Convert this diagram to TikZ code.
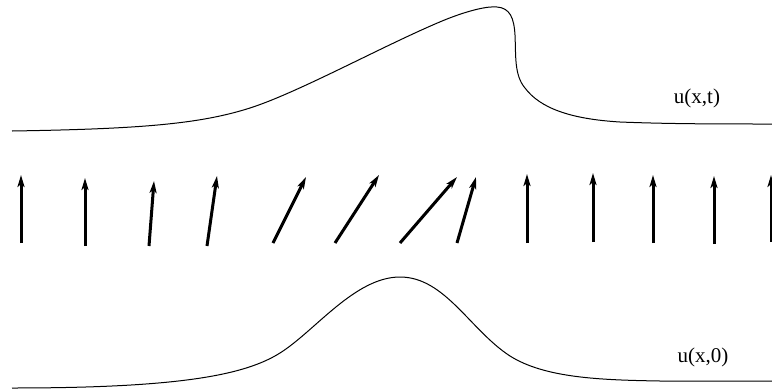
\documentclass[tikz,border=0pt]{standalone}
\usepackage{fontspec}
\setmainfont{Liberation Serif}
\usepackage{tikz}
\usetikzlibrary{arrows.meta}

\begin{document}
\begin{tikzpicture}[
        x=1pt, y=-1pt,
        curve/.style={line width=1pt, black},
        vec/.style={-{Stealth[length=12pt, width=7pt, inset=3pt]}, line width=3pt, black},
        lbl/.style={font=\fontsize{21}{25}\selectfont, inner sep=0pt}
    ]
        \useasboundingbox (0,0) rectangle (772,389);

        % profile at time t (steepened front)
        \draw[curve] (12,131) .. controls (140,129) and (200,124) .. (250,108)
            .. controls (300,92) and (390,42) .. (447,19)
            .. controls (470,10) and (488,6) .. (497,7)
            .. controls (510,8) and (514,18) .. (515,35)
            .. controls (516,55) and (514,75) .. (525,88)
            .. controls (540,108) and (570,119) .. (620,122)
            .. controls (670,124) and (720,124) .. (772,124);
        \node[lbl] (ut) at (697,98) {u(x,t)};

        % field of arrows
        \draw[vec] (21,243) -- (21,175);
        \draw[vec] (85,246) -- (85,178);
        \draw[vec] (149,246) -- (154,181);
        \draw[vec] (207,246) -- (217,176);
        \draw[vec] (273,243) -- (306,177);
        \draw[vec] (335,243) -- (379,175);
        \draw[vec] (400,243) -- (457,177);
        \draw[vec] (457,243) -- (476,177);
        \draw[vec] (527,243) -- (527,174);
        \draw[vec] (593,242) -- (593,173);
        \draw[vec] (653,243) -- (653,175);
        \draw[vec] (714,244) -- (714,176);
        \draw[vec] (771,242) -- (771,175);

        % initial profile
        \draw[curve] (12,388) .. controls (180,388) and (245,375) .. (280,353)
            .. controls (315,331) and (355,277) .. (400,277)
            .. controls (445,277) and (470,330) .. (510,356)
            .. controls (545,378) and (600,380) .. (660,381)
            -- (772,381);
        \node[lbl] (u0) at (703,357) {u(x,0)};
    \end{tikzpicture}
\end{document}
